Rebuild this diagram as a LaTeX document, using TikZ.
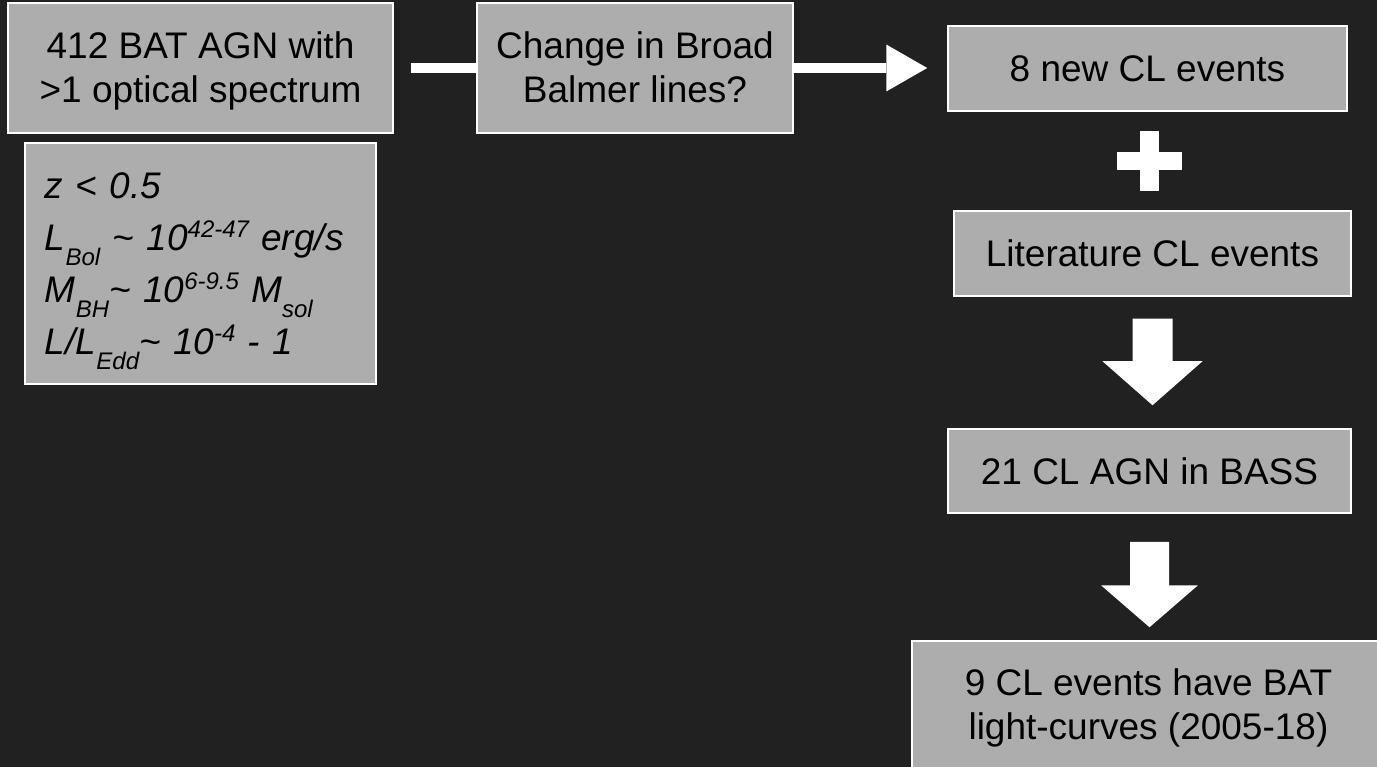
\documentclass[tikz,border=0pt]{standalone}
\usepackage{fontspec}
\setmainfont{Liberation Sans}
\usetikzlibrary{arrows.meta,calc}
\definecolor{bg}{HTML}{212121}
\definecolor{boxfill}{HTML}{ADADAD}
\newcommand{\mysb}[1]{\raisebox{-15pt}[0pt][0pt]{\fontsize{24}{24}\selectfont #1}}
\newcommand{\mysp}[1]{\raisebox{13pt}[0pt][0pt]{\fontsize{24}{24}\selectfont #1}}
\newcommand{\tstrut}{\rule{0pt}{33pt}}
\newcommand{\bstrut}{\rule[-8pt]{0pt}{8pt}}
\begin{document}
\begin{tikzpicture}[x=1pt,y=-1pt,
  box/.style={draw=white, line width=1.5pt, fill=boxfill, text=black, inner sep=0pt,
    align=center, font=\fontsize{37}{44}\selectfont},
  link/.style={draw=white, line width=9.5pt},
  blockarrow/.style={fill=white},
]
\fill[bg] (0,0) rectangle (1377,767);
\useasboundingbox (0,0) rectangle (1377,767);

\node[box, minimum width=385pt, minimum height=130pt] (b1) at (200.5,68) {\tstrut412 BAT AGN with\\>1 optical spectrum\bstrut};
\node[box, minimum width=351pt, minimum height=241pt, text width=311pt, align=left,
  font=\fontsize{37}{52}\selectfont\itshape] (par) at (200.5,263.5)
  {z < 0.5\\
   L\mysb{Bol} \textasciitilde\ 10\mysp{42-47} erg/s\\
   M\mysb{BH}\textasciitilde\ 10\mysp{6-9.5} M\mysb{sol}\\
   L/L\mysb{Edd}\textasciitilde\ 10\mysp{-4} - 1};
\node[box, minimum width=316pt, minimum height=130pt] (b2) at (635,68) {\tstrut Change in Broad\\Balmer lines?\bstrut};
\node[box, minimum width=399pt, minimum height=85pt] (b3) at (1147.5,68.5) {8 new CL events};
\node[box, minimum width=397pt, minimum height=85pt] (lit) at (1152.5,253.5) {Literature CL events};
\node[box, minimum width=403pt, minimum height=84pt] (bass) at (1149.5,471) {21 CL AGN in BASS};
\node[box, minimum width=473pt, minimum height=128pt] (last) at (1148.5,705) {\tstrut 9 CL events have BAT\\light-curves (2005-18)\bstrut};

\draw[link, shorten <=17pt] (b1.east) -- (b1.east -| b2.west);
\draw[link, -{Triangle[length=41pt,width=47pt,line width=0pt]}, shorten >=20pt] (b2.east) -- (b2.east -| b3.west);

% plus sign
\fill[white] (1140,131) rectangle (1159,191);
\fill[white] (1117,152) rectangle (1182,170);

% block arrows
\path (lit.south) ++(0,22) coordinate (a1s);
\path (lit.south |- bass.north) ++(0,-23) coordinate (a1e);
\fill[blockarrow] ($(a1s)+(-20,0)$) -- ($(a1s)+(20,0)$) -- ($(a1e)+(20,-44)$) -- ($(a1e)+(50,-44)$)
  -- (a1e) -- ($(a1e)+(-50,-44)$) -- ($(a1e)+(-20,-44)$) -- cycle;
\path (bass.south) ++(0,28) coordinate (a2s);
\path (bass.south |- last.north) ++(0,-13) coordinate (a2e);
\fill[blockarrow] ($(a2s)+(-19.5,0)$) -- ($(a2s)+(19.5,0)$) -- ($(a2e)+(19.5,-42)$) -- ($(a2e)+(48.5,-42)$)
  -- (a2e) -- ($(a2e)+(-48.5,-42)$) -- ($(a2e)+(-19.5,-42)$) -- cycle;
\end{tikzpicture}
\end{document}
